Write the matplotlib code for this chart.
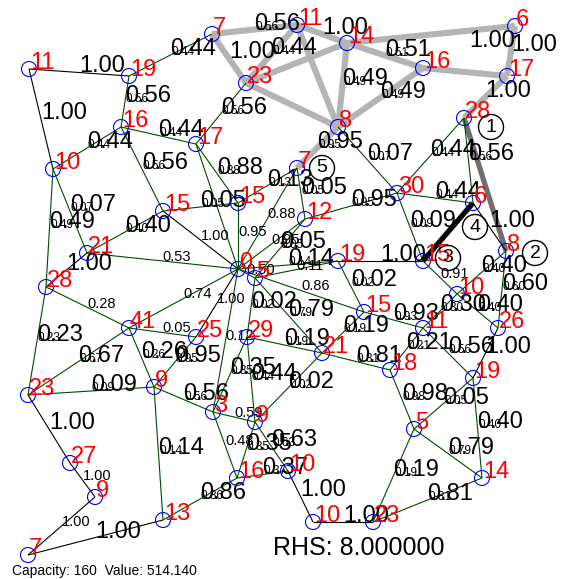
#!/usr/bin/env python3
import matplotlib
matplotlib.use('Agg')
import matplotlib.pyplot as plt
from matplotlib.patches import Circle

plt.rcParams['font.family'] = ['Liberation Sans', 'DejaVu Sans']

# node labels and positions (pixel coords, y down)
node_names = ['11', '19', '7', '23', '11', '14', '6', '16', '17', '8',
              '28', '7', '30', '6', '8', '15', '19', '12', '15', '0',
              '5', '17', '16', '10', '15', '21', '28', '41', '25', '29',
              '21', '15', '10', '11', '26', '18', '19', '23', '9', '3',
              '9', '27', '9', '7', '13', '16', '10', '10', '23', '5', '14']
node_x = [29, 129, 212, 246, 297, 347, 515, 423, 507, 338,
          464, 297, 397, 473, 506, 423, 338, 305, 238, 238,
          255, 196, 121, 53, 163, 87, 46, 129, 196, 247,
          322, 364, 457, 423, 498, 390, 473, 28, 154, 213,
          255, 70, 95, 28, 163, 237, 288, 313, 373, 414, 482]
node_y = [69, 76, 34, 83, 25, 43, 26, 68, 76, 127,
          118, 168, 193, 203, 251, 261, 261, 219, 203, 269,
          278, 144, 127, 169, 211, 253, 287, 328, 337, 337,
          353, 312, 294, 328, 328, 370, 378, 395, 387, 412,
          422, 463, 497, 555, 520, 478, 471, 522, 522, 429, 478]

# edges: from, to, value, line kind, label kind
edge_from = [2, 2, 3, 3, 3, 4, 4, 5, 5, 5, 7, 7, 7, 6, 8, 9, 10, 13,
             0, 0, 1, 1, 3, 22, 22, 22, 21, 21, 23, 23, 24, 24, 24, 25, 25,
             26, 26, 27, 27, 27, 27, 28, 28, 37, 37, 41, 42, 43, 38, 38, 44,
             18, 19, 18, 11, 19, 20, 17, 19, 20, 19, 19, 20, 20, 19, 29, 29,
             29, 30, 30, 39, 39, 40, 40, 45, 46, 47, 48, 48, 49, 49, 49, 36,
             30, 35, 33, 36, 31, 16, 16, 15, 12, 32, 32, 32, 14, 12, 10, 10,
             9, 13]
edge_to = [4, 3, 4, 5, 9, 5, 9, 9, 7, 6, 6, 9, 8, 8, 10, 11, 14, 15,
           1, 23, 2, 22, 21, 23, 21, 24, 18, 19, 25, 26, 25, 19, 18, 19, 26,
           27, 37, 19, 28, 37, 38, 19, 38, 38, 41, 42, 43, 44, 44, 39, 45,
           19, 11, 11, 17, 17, 17, 12, 16, 16, 20, 31, 30, 29, 39, 30, 39,
           40, 40, 31, 40, 45, 45, 46, 46, 47, 48, 49, 50, 50, 36, 35, 50,
           35, 33, 36, 34, 33, 15, 31, 32, 15, 14, 34, 33, 34, 13, 12, 13,
           12, 14]
edge_vals = ['0.56', '1.00', '0.44', '', '', '1.00', '', '0.49', '0.51', '',
             '1.00', '0.49', '', '1.00', '1.00', '0.95', '', '',
             '1.00', '1.00', '0.44', '0.56', '0.56', '0.44', '0.44', '0.56',
             '0.88', '', '0.07', '0.49', '0.40', '1.00', '0.05', '0.53', '1.00',
             '0.28', '0.23', '0.74', '0.05', '0.67', '0.26', '1.00', '0.95',
             '0.09', '1.00', '1.00', '1.00', '1.00', '0.14', '0.56', '0.86',
             '0.95', '0.88', '0.13', '0.05', '0.95', '0.05', '0.95', '0.14',
             '0.11', '0.50', '0.86', '0.79', '0.02', '0.12', '0.19', '0.35',
             '0.44', '0.02', '0.19', '0.59', '0.48', '0.35', '0.63', '0.37',
             '1.00', '1.00', '0.19', '0.81', '0.79', '0.05', '0.98', '0.40',
             '0.81', '0.21', '0.56', '1.00', '0.93', '1.00', '0.02', '0.91',
             '0.09', '0.40', '0.40', '0.30', '0.60', '0.44', '0.44', '0.56',
             '0.07', '1.00']
edge_kind = ['lg', 'lg', 'lg', 'lg', 'lg', 'lg', 'lg', 'lg', 'lg', 'lg',
             'none', 'lg', 'lg', 'lg', 'lg', 'lg', 'dg', 'bk',
             'k', 'k', 'g', 'g', 'g', 'g', 'g', 'g', 'g', 'g', 'g', 'g', 'g',
             'k', 'g', 'g', 'k', 'g', 'g', 'g', 'g', 'g', 'g', 'k', 'g', 'g',
             'k', 'k', 'k', 'k', 'g', 'g', 'g',
             'g', 'g', 'g', 'g', 'g', 'g', 'g', 'g', 'g', 'g', 'g', 'g', 'g',
             'g', 'g', 'g', 'g', 'g', 'g', 'g', 'g', 'g', 'g', 'g', 'k', 'k',
             'g', 'g', 'g', 'g', 'g', 'g', 'g', 'g', 'g', 'k', 'g', 'k', 'g',
             'g', 'g', 'g', 'g', 'g', 'g', 'g', 'g', 'g', 'g', 'k']
label_kind = ['big', 'one', 'big', '', '', 'one', '', 'big', 'big', '',
              'one', 'big', '', 'one', 'one', 'big', '', '',
              'one', 'one', 'big', 'big', 'big', 'big', 'big', 'big', 'big', '',
              'big', 'big', 'big', 'mid', 'big', 'mid', 'one',
              'mid', 'big', 'mid', 'mid', 'big', 'big', 'mid', 'big',
              'big', 'one', 'mid', 'mid', 'one', 'big', 'big', 'big',
              'mid', 'mid', 'big', 'big', 'mid', 'big', 'big', 'big',
              'mid', 'mid', 'mid', 'big', 'big', 'mid', 'big', 'big',
              'big', 'big', 'big', 'mid', 'mid', 'big', 'big', 'big',
              'one', 'one', 'big', 'big', 'big', 'big', 'big', 'big',
              'big', 'big', 'big', 'one', 'big', 'one', 'big', 'mid',
              'big', 'big', 'big', 'big', 'big', 'big', 'big', 'big',
              'big', 'one']

# circled markers: node, number, offset
mark_node = [10, 14, 15, 13, 11]
mark_text = ['1', '2', '3', '4', '5']
mark_dx = [27, 29, 25, 2, 25]
mark_dy = [9, 2, -3, 24, 0]

line_style = {
    'lg': dict(color='#b4b4b4', lw=4.4),
    'dg': dict(color='#6e6e6e', lw=3.8),
    'bk': dict(color='black', lw=3.8),
    'k': dict(color='black', lw=0.8),
    'g': dict(color='#004a00', lw=0.8),
}

fig = plt.figure(figsize=(5.61, 5.79), dpi=100)
axis = fig.add_axes([0, 0, 1, 1])
axis.set_xlim(0, 561)
axis.set_ylim(579, 0)
axis.axis('off')

for a, b, v, kind, lk in zip(edge_from, edge_to, edge_vals, edge_kind, label_kind):
	xs = [node_x[a], node_x[b]]
	ys = [node_y[a], node_y[b]]
	if kind in line_style:
		axis.plot(xs, ys, solid_capstyle='butt', zorder=1, **line_style[kind])
	mx = (xs[0] + xs[1]) / 2
	my = (ys[0] + ys[1]) / 2
	if lk in ('big', 'one'):
		axis.text(mx, my, v, fontsize=17, ha='left', va='baseline', zorder=2)
	if lk == 'big':
		axis.text(mx + 1, my, v, fontsize=8.5, ha='left', va='baseline', zorder=2)
	if lk == 'mid':
		axis.text(mx, my, v, fontsize=10.5, ha='left', va='baseline', zorder=2)

for name, x, y in zip(node_names, node_x, node_y):
	axis.add_patch(Circle((x, y), 7.5, fill=False, ec='blue', lw=0.8, zorder=3))
	axis.text(x + 1, y, name, color='red', fontsize=17, ha='left', va='baseline', zorder=4)

for n, t, dx, dy in zip(mark_node, mark_text, mark_dx, mark_dy):
	cx = node_x[n] + dx
	cy = node_y[n] + dy
	axis.add_patch(Circle((cx, cy), 12.5, fill=False, ec='black', lw=1.0, zorder=5))
	axis.text(cx, cy, t, fontsize=14, ha='center', va='center', zorder=5)

axis.text(12, 575, 'Capacity: 160  Value: 514.140', fontsize=10, ha='left', va='baseline')
axis.text(273, 555, 'RHS: 8.000000', fontsize=18, ha='left', va='baseline')

fig.savefig('out.png', dpi=100)
